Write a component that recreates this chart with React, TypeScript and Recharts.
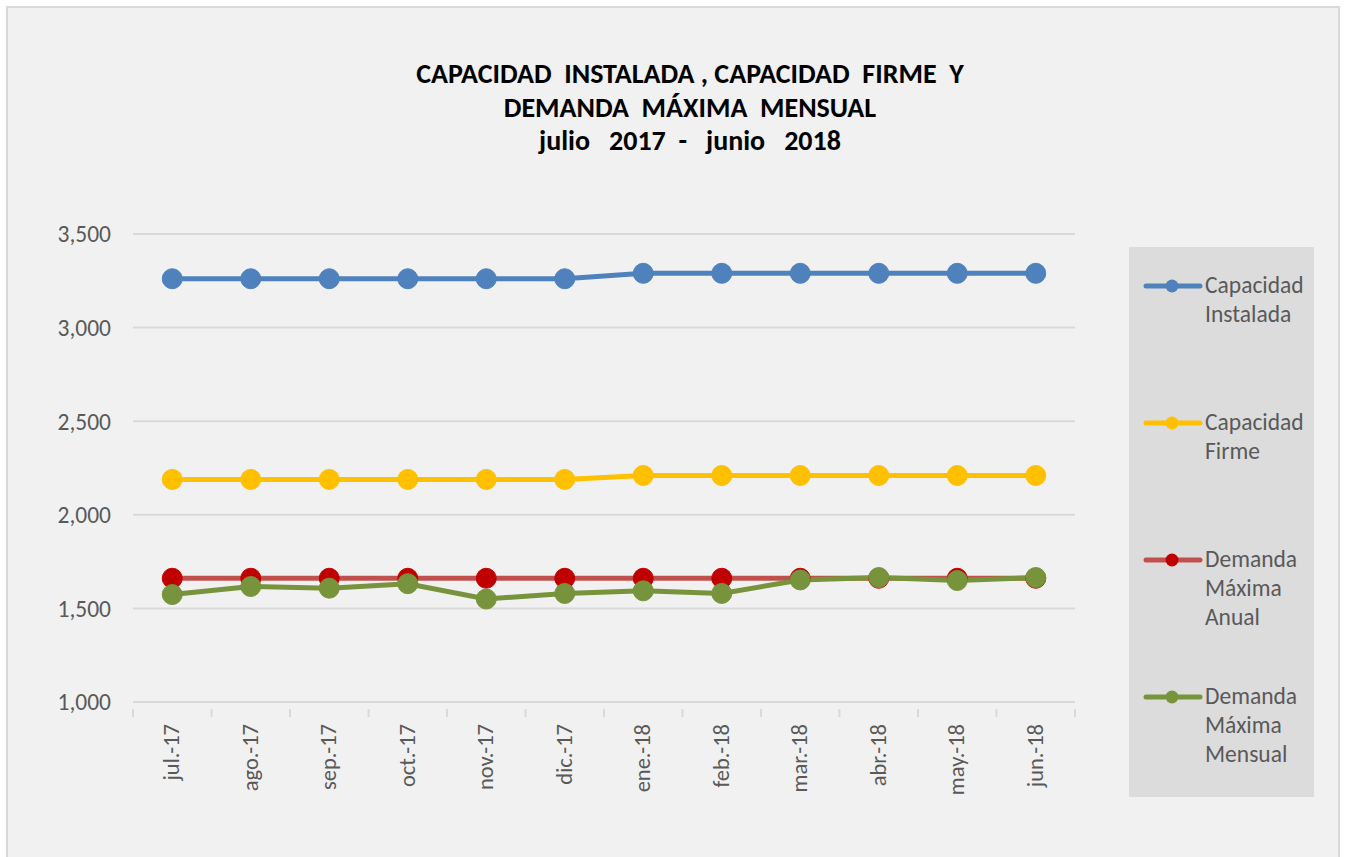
import React from "react";
import {
  CartesianGrid,
  Line,
  LineChart,
  XAxis,
  YAxis,
} from "recharts";

const months = [
  "jul.-17",
  "ago.-17",
  "sep.-17",
  "oct.-17",
  "nov.-17",
  "dic.-17",
  "ene.-18",
  "feb.-18",
  "mar.-18",
  "abr.-18",
  "may.-18",
  "jun.-18",
];

const capacidadInstalada = [3261, 3261, 3261, 3261, 3261, 3261, 3290, 3290, 3290, 3290, 3290, 3290];
const capacidadFirme = [2189, 2189, 2189, 2189, 2189, 2189, 2210, 2210, 2210, 2210, 2210, 2210];
const demandaAnual = [1661, 1661, 1661, 1661, 1661, 1661, 1661, 1661, 1661, 1661, 1661, 1661];
const demandaMensual = [1574, 1617, 1608, 1632, 1550, 1580, 1594, 1580, 1652, 1665, 1649, 1665];

const yTicks = [1000, 1500, 2000, 2500, 3000, 3500];

const titleLines = [
  "CAPACIDAD  INSTALADA , CAPACIDAD  FIRME  Y",
  "DEMANDA  MÁXIMA  MENSUAL",
  "julio   2017  -   junio   2018",
];

const series = [
  { key: "instalada", name: ["Capacidad", "Instalada"], line: "#4f81bd", dot: "#4f81bd" },
  { key: "firme", name: ["Capacidad", "Firme"], line: "#ffc000", dot: "#ffc000" },
  { key: "anual", name: ["Demanda", "Máxima", "Anual"], line: "#c0504d", dot: "#c00000" },
  { key: "mensual", name: ["Demanda", "Máxima", "Mensual"], line: "#77933c", dot: "#77933c" },
];

const data = months.map((m, i) => ({
  month: m,
  instalada: capacidadInstalada[i],
  firme: capacidadFirme[i],
  anual: demandaAnual[i],
  mensual: demandaMensual[i],
}));

const FONT = "Carlito, Calibri, Lato, 'Open Sans', sans-serif";
const TEXT = "#595959";

function MonthTick(props: any) {
  const { x, y, payload, index } = props;
  const half = payload?.offset ?? 39.25;
  return (
    <g>
      <line x1={x - half} y1={y - 1} x2={x - half} y2={y + 7} stroke="#d9d9d9" strokeWidth={2} />
      {index === months.length - 1 && (
        <line x1={x + half} y1={y - 1} x2={x + half} y2={y + 7} stroke="#d9d9d9" strokeWidth={2} />
      )}
      <text
        x={0}
        y={0}
        transform={`translate(${x + 7}, ${y + 14}) rotate(-90)`}
        textAnchor="end"
        fill={TEXT}
        fontSize={22.5}
        fontFamily={FONT}
      >
        {payload.value}
      </text>
    </g>
  );
}

function LegendBox() {
  return (
    <div
      style={{
        position: "absolute",
        left: 1129,
        top: 247,
        width: 185,
        height: 550,
        background: "#dcdcdc",
        fontFamily: FONT,
        color: TEXT,
        fontSize: 23.5,
        boxSizing: "border-box",
        paddingTop: 24,
      }}
    >
      {series.map((s) => (
        <div key={s.key} style={{ display: "flex", height: 137, alignItems: "flex-start" }}>
          <svg width={74} height={30} style={{ flex: "none" }}>
            <line x1={17} y1={15} x2={71} y2={15} stroke={s.line} strokeWidth={5} strokeLinecap="round" />
            <circle cx={43} cy={15} r={6.5} fill={s.dot} />
          </svg>
          <div style={{ lineHeight: "29px", marginLeft: 2 }}>
            {s.name.map((n) => (
              <div key={n}>{n}</div>
            ))}
          </div>
        </div>
      ))}
    </div>
  );
}

export default function App() {
  return (
    <div
      style={{
        position: "absolute",
        left: 0,
        top: 0,
        width: 1349,
        height: 857,
        background: "#ffffff",
        overflow: "hidden",
      }}
    >
      <div
        style={{
          position: "absolute",
          left: 6,
          top: 6,
          width: 1334,
          height: 870,
          background: "#f1f1f1",
          border: "2px solid #d9d9d9",
          boxSizing: "border-box",
        }}
      />
      <div
        style={{
          position: "absolute",
          left: 0,
          top: 57,
          width: 1380,
          textAlign: "center",
          fontFamily: FONT,
          fontWeight: 700,
          fontSize: 28,
          lineHeight: "33.5px",
          color: "#000",
          whiteSpace: "pre",
        }}
      >
        {titleLines.map((t) => (
          <div key={t}>{t}</div>
        ))}
      </div>
      <div style={{ position: "absolute", left: 0, top: 0 }}>
        <LineChart
          width={1349}
          height={857}
          data={data}
          margin={{ top: 234, right: 274, left: 63, bottom: 55 }}
        >
          <CartesianGrid vertical={false} stroke="#d9d9d9" strokeWidth={2} />
          <XAxis
            dataKey="month"
            scale="band"
            height={100}
            interval={0}
            tickLine={false}
            axisLine={{ stroke: "#d9d9d9", strokeWidth: 2 }}
            tick={<MonthTick />}
          />
          <YAxis
            width={70}
            domain={[1000, 3500]}
            ticks={yTicks}
            allowDataOverflow
            axisLine={false}
            tickLine={false}
            tickMargin={16}
            tickFormatter={(v: number) => v.toLocaleString("en-US")}
            tick={{ fill: TEXT, fontSize: 23.5, fontFamily: FONT }}
          />
          {series.map((s) => (
            <Line
              key={s.key}
              dataKey={s.key}
              type="linear"
              stroke={s.line}
              strokeWidth={5}
              dot={{ r: 10, fill: s.dot, stroke: s.dot, strokeWidth: 1 }}
              activeDot={false}
              isAnimationActive={false}
            />
          ))}
        </LineChart>
      </div>
      <LegendBox />
    </div>
  );
}
